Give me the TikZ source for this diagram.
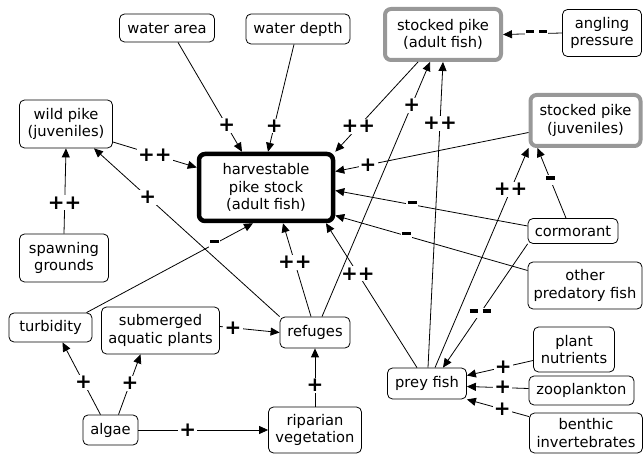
\documentclass[tikz,border=0pt]{standalone}
\usepackage{fontspec}
\setmainfont{DejaVu Sans}
\usetikzlibrary{arrows.meta}
\definecolor{stockgray}{RGB}{152,152,152}
\newcommand{\mybar}{\rule[4.5pt]{9pt}{3.2pt}}
\newcommand{\mydbar}{\rule[4.5pt]{8pt}{3.2pt}\kern5pt\rule[4.5pt]{8pt}{3.2pt}}
\begin{document}
\begin{tikzpicture}[x=1pt,y=-1pt,
  box/.style={draw, rounded corners=5pt, line width=0.8pt, align=center, inner sep=0pt,
    font=\fontsize{14.7}{17.5}\selectfont},
  keybox/.style={box, line width=4.5pt, rounded corners=6pt},
  stockbox/.style={box, draw=stockgray, line width=4pt, rounded corners=6pt},
  conn/.style={line width=0.8pt, -{Triangle[length=9pt,width=8pt]}},
  lbl/.style={fill=white, inner sep=1.2pt, font=\fontsize{20}{20}\bfseries\selectfont}
]
\fill[white] (0,0) rectangle (643,454);
\useasboundingbox (0,0) rectangle (643,454);

% nodes
\node[box, minimum width=95pt, minimum height=28pt] (wa) at (167,28) {water area};
\node[box, minimum width=104pt, minimum height=30pt] (wd) at (298,29) {water depth};
\node[stockbox, minimum width=116pt, minimum height=51pt] (spa) at (443,34.5) {stocked pike\\(adult fish)};
\node[box, minimum width=79pt, minimum height=47pt] (ang) at (602,33) {angling\\pressure};
\node[box, minimum width=93pt, minimum height=48pt] (wild) at (66,124) {wild pike\\(juveniles)};
\node[keybox, minimum width=134pt, minimum height=67pt] (harv) at (266,187.5) {harvestable\\pike stock\\(adult fish)};
\node[stockbox, minimum width=110pt, minimum height=51pt] (spj) at (585.5,120.5) {stocked pike\\(juveniles)};
\node[box, minimum width=89pt, minimum height=48pt] (spawn) at (64,258) {spawning\\grounds};
\node[box, minimum width=90pt, minimum height=25pt] (corm) at (573,231) {cormorant};
\node[box, minimum width=114pt, minimum height=47pt] (opf) at (585,285.5) {other\\predatory fish};
\node[box, minimum width=83pt, minimum height=29pt] (turb) at (50.5,327.5) {turbidity};
\node[box, minimum width=118pt, minimum height=47pt] (sap) at (160.5,330.5) {submerged\\aquatic plants};
\node[box, minimum width=70pt, minimum height=31pt] (ref) at (315,332.5) {refuges};
\node[box, minimum width=81pt, minimum height=45pt] (pn) at (574,349.5) {plant\\nutrients};
\node[box, minimum width=79pt, minimum height=31pt] (prey) at (427,383.5) {prey fish};
\node[box, minimum width=105pt, minimum height=29pt] (zoo) at (581.5,390.5) {zooplankton};
\node[box, minimum width=113pt, minimum height=40pt] (benth) at (586,433) {benthic\\invertebrates};
\node[box, minimum width=55pt, minimum height=30pt] (algae) at (110.5,430) {algae};
\node[box, minimum width=93pt, minimum height=46pt] (rip) at (315,430) {riparian\\vegetation};

% connectors
\draw[conn] ([xshift=11pt]wa.south) -- node[lbl,pos=0.76]{+} ([xshift=-24pt]harv.north);
\draw[conn] ([xshift=-4pt]wd.south) -- node[lbl,pos=0.76]{+} ([xshift=2pt]harv.north);
\draw[conn] ([yshift=-18pt]wild.east) -- node[lbl,pos=0.5]{++} ([yshift=20pt]harv.west);
\draw[conn] (spawn.north) -- node[lbl,pos=0.36]{++} (wild.south);
\draw[conn] (ref.north west) -- node[lbl,pos=0.71]{+} ([xshift=28pt]wild.south);
\draw[conn] ([xshift=-25pt]spa.south) -- node[lbl,pos=0.72]{++} (harv.north east);
\draw[conn] ([yshift=-12pt]spj.west) -- node[lbl,pos=0.83]{+} ([yshift=16pt]harv.east);
\draw[conn] ([yshift=5pt]corm.west) -- node[lbl,pos=0.6]{\mybar} ([yshift=-3pt]harv.east);
\draw[conn] ([yshift=15pt]opf.west) -- node[lbl,pos=0.63]{\mybar} ([yshift=-28pt]harv.east);
\draw[conn] ([xshift=36pt]turb.north) -- node[lbl,pos=0.77]{\mybar} ([xshift=-13pt]harv.south);
\draw[conn] ([xshift=-4pt]ref.north) -- node[lbl,pos=0.58]{++} ([xshift=17pt]harv.south);
\draw[conn] ([xshift=-10pt]prey.north) -- node[lbl,pos=0.65]{++} ([xshift=60pt]harv.south);
\draw[conn] ([xshift=7pt]ref.north) -- node[lbl,pos=0.83]{+} ([xshift=-13pt]spa.south);
\draw[conn] ([xshift=1pt]prey.north) -- node[lbl,pos=0.8]{++} (spa.south);
\draw[conn] ([xshift=8pt]prey.north) -- node[lbl,pos=0.81]{++} ([xshift=-57pt]spj.south);
\draw[conn] ([xshift=-7pt]corm.north) -- node[lbl,pos=0.54]{\mybar} ([xshift=-48pt]spj.south);
\draw[conn] (corm.south west) -- node[lbl,pos=0.56]{\mydbar} ([xshift=16pt]prey.north);
\draw[conn] ([yshift=-11pt]pn.west) -- node[lbl,pos=0.45]{+} ([yshift=8pt]prey.east);
\draw[conn] ([yshift=2pt]zoo.west) -- node[lbl,pos=0.42]{+} ([yshift=-3pt]prey.east);
\draw[conn] ([yshift=-4pt]benth.north west) -- node[lbl,pos=0.43]{+} (prey.south east);
\draw[conn] (ang.west) -- node[lbl,pos=0.43]{\mydbar} (spa.east);
\draw[conn] ([yshift=4pt]sap.east) -- node[lbl,pos=0.22]{+} (ref.west);
\draw[conn] ([xshift=-10pt]algae.north) -- node[lbl,pos=0.45]{+} ([xshift=12pt]turb.south);
\draw[conn] ([xshift=8pt]algae.north) -- node[lbl,pos=0.52]{+} ([xshift=-20pt]sap.south);
\draw[conn] (algae.east) -- node[lbl,pos=0.38]{+} (rip.west);
\draw[conn] (rip.north) -- node[lbl,pos=0.37]{+} (ref.south);
\end{tikzpicture}
\end{document}
